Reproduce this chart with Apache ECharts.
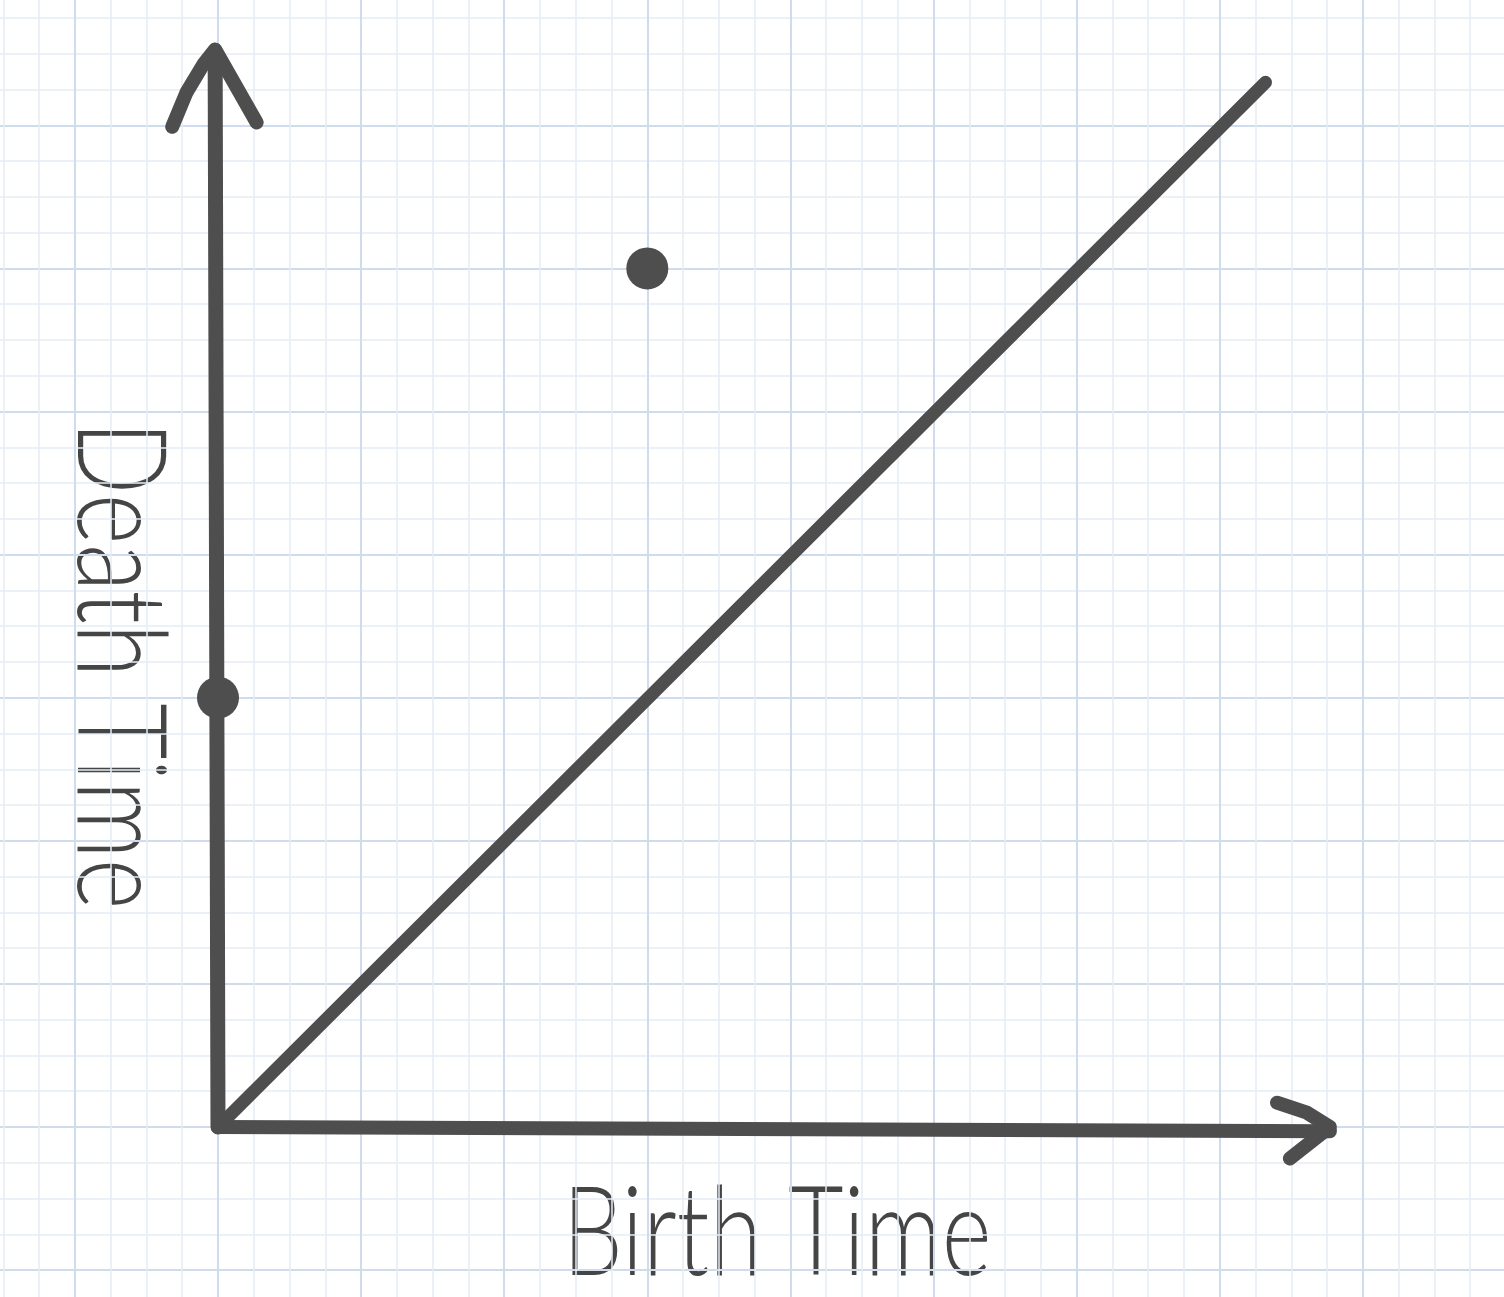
<!DOCTYPE html>
<html lang="en">
<head>
    <meta charset="UTF-8">
    <title>Birth / Death diagram</title>
    <script src="https://cdn.jsdelivr.net/npm/echarts@6/dist/echarts.min.js"></script>
    <style>
        html, body { margin: 0; padding: 0; background: #ffffff; }
        #main { width: 1504px; height: 1297px; }
    </style>
</head>
<body>
    <div id="main"></div>
    <script>
        // points of the diagram (birth, death)
        var points = [[3, 6], [0, 3]];

        // hand drawn strokes, in data units
        var yAxisStroke = [[0, 0], [-0.02, 7.5]];
        var yArrowHead = [[-0.32, 6.99], [-0.22, 7.23], [-0.1, 7.43], [-0.02, 7.53], [0.27, 7.02]];
        var xAxisStroke = [[0, 0], [7.77, -0.03]];
        var xArrowHead = [[7.4, 0.17], [7.61, 0.1], [7.77, 0.0], [7.49, -0.22]];
        var diagonal = [[0, 0], [7.32, 7.3]];

        // axis labels
        var xName = 'Birth Time';
        var yName = 'Death Time';

        var ink = '#4e4e4e';
        var penWidth = 14;

        // graph paper: one big square = 1 unit = 143.1px, origin at (218, 1127),
        // 4 small squares per big square
        var unit = 143.1, ox = 218, oy = 1127;
        var W = 1504, H = 1297;
        function px(x) { return ox + x * unit; }
        function py(y) { return oy - y * unit; }

        var minorLine = { show: true, lineStyle: { color: '#e6edf6', width: 1.5 } };
        var majorLine = { show: true, lineStyle: { color: '#cfdcee', width: 2 } };
        var hidden = { show: false };

        function axis(gridIndex, min, max, interval, split) {
            return {
                type: 'value', gridIndex: gridIndex, min: min, max: max, interval: interval,
                axisLine: hidden, axisTick: hidden, axisLabel: hidden,
                splitLine: split || hidden
            };
        }

        function stroke(name, data, width) {
            return {
                name: name,
                type: 'line',
                data: data,
                symbol: 'none',
                silent: true,
                lineStyle: { color: ink, width: width || penWidth, cap: 'round', join: 'round' },
                z: 3
            };
        }

        var myChart = echarts.init(document.getElementById('main'));

        var option = {
            backgroundColor: '#ffffff',
            animation: false,
            grid: [
                // data grid
                { left: px(-1.5), top: py(7.75), width: 10.25 * unit, height: 8.75 * unit, z: 2 },
                // vertical minor lines (axis in small-square units)
                { left: px(-1.5), top: 0, width: 10.25 * unit, height: H },
                // horizontal minor lines
                { left: 0, top: py(7.75), width: W, height: 8.75 * unit },
                // vertical major lines
                { left: px(-1), top: 0, width: 9 * unit, height: H },
                // horizontal major lines
                { left: 0, top: py(7), width: W, height: 8 * unit }
            ],
            xAxis: [
                axis(0, -1.5, 8.75),
                axis(1, -6, 35, 1, minorLine),
                axis(2, 0, 1, 1),
                axis(3, -1, 8, 1, majorLine),
                axis(4, 0, 1, 1)
            ],
            yAxis: [
                axis(0, -1, 7.75),
                axis(1, 0, 1, 1),
                axis(2, -4, 31, 1, minorLine),
                axis(3, 0, 1, 1),
                axis(4, -1, 7, 1, majorLine)
            ],
            series: [
                stroke('yAxis', yAxisStroke, 15),
                stroke('yArrow', yArrowHead),
                stroke('xAxis', xAxisStroke),
                stroke('xArrow', xArrowHead),
                stroke('diagonal', diagonal, 13),
                {
                    name: 'points',
                    type: 'scatter',
                    data: points,
                    symbol: 'circle',
                    symbolSize: 42,
                    itemStyle: { color: ink, opacity: 1 },
                    z: 4
                }
            ],
            graphic: [
                {
                    type: 'text',
                    x: 777, y: 1235,
                    scaleX: 0.765,
                    style: {
                        text: xName,
                        font: '300 125px Lato, "DejaVu Sans", sans-serif',
                        fill: '#454545',
                        align: 'center',
                        verticalAlign: 'middle'
                    }
                },
                {
                    type: 'text',
                    x: 118, y: 665,
                    rotation: -Math.PI / 2,
                    scaleX: 0.775,
                    style: {
                        text: yName,
                        font: '300 125px Lato, "DejaVu Sans", sans-serif',
                        fill: '#454545',
                        align: 'center',
                        verticalAlign: 'middle'
                    }
                }
            ]
        };

        myChart.setOption(option);
    </script>
</body>
</html>
